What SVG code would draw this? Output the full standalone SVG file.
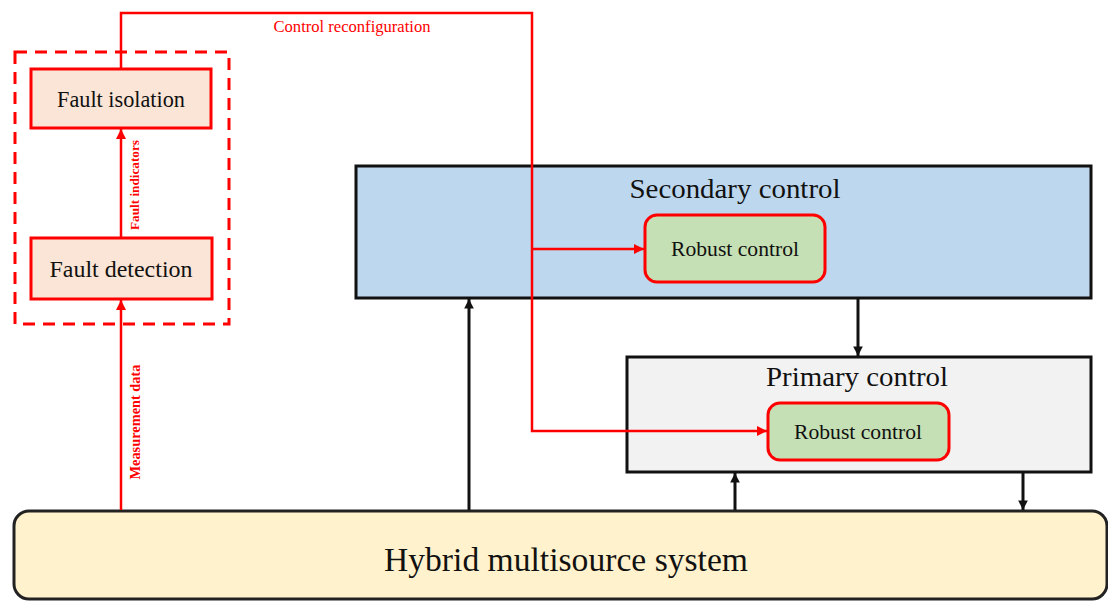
<svg xmlns="http://www.w3.org/2000/svg" width="1108" height="601" viewBox="0 0 1108 601">
<style>
.serif{font-family:"Liberation Serif","Times New Roman",Times,serif;}
.red{fill:#FF0000;}
.fault rect{fill:#FBE5D6;stroke:#FF0000;stroke-width:3;}
.robust rect{fill:#C5E0B4;stroke:#FF0000;stroke-width:3;}
.rl{fill:none;stroke:#FF0000;stroke-width:2.5;}
.bl{fill:none;stroke:#111;stroke-width:3;}
</style>
<defs>
<marker id="ar" viewBox="0 0 10 10" refX="10" refY="5" markerWidth="4" markerHeight="4" markerUnits="strokeWidth" orient="auto">
<path d="M0,0 L10,5 L0,10 z" fill="#FF0000"/>
</marker>
<marker id="ab" viewBox="0 0 10 10" refX="10" refY="5" markerWidth="3.2" markerHeight="3.2" markerUnits="strokeWidth" orient="auto">
<path d="M0,0 L10,5 L0,10 z" fill="#111"/>
</marker>
</defs>

<g id="fdi-group">
<rect x="15" y="52" width="214" height="272" fill="none" stroke="#FF0000" stroke-width="3" stroke-dasharray="12,8"/>
</g>

<g id="hybrid">
<rect x="14" y="511" width="1093" height="88" rx="15" fill="#FFF2CC" stroke="#222" stroke-width="3"/>
<text class="serif" x="566" y="571" font-size="34" text-anchor="middle" textLength="364" lengthAdjust="spacingAndGlyphs" fill="#111">Hybrid multisource system</text>
</g>

<g id="secondary">
<rect x="356" y="166" width="735" height="132" fill="#BDD7EE" stroke="#111" stroke-width="3"/>
<text class="serif" x="735" y="198" font-size="28" text-anchor="middle" textLength="211" lengthAdjust="spacingAndGlyphs" fill="#111">Secondary control</text>
</g>

<g id="primary">
<rect x="627" y="357" width="464" height="115" fill="#F2F2F2" stroke="#111" stroke-width="3"/>
<text class="serif" x="857" y="386" font-size="28" text-anchor="middle" textLength="182" lengthAdjust="spacingAndGlyphs" fill="#111">Primary control</text>
</g>

<g id="robust-secondary" class="robust">
<rect x="645" y="215" width="180" height="67" rx="12"/>
<text class="serif" x="735" y="256" font-size="21" text-anchor="middle" textLength="128" lengthAdjust="spacingAndGlyphs" fill="#111">Robust control</text>
</g>

<g id="robust-primary" class="robust">
<rect x="768" y="403" width="181" height="57" rx="12"/>
<text class="serif" x="858" y="439" font-size="21" text-anchor="middle" textLength="128" lengthAdjust="spacingAndGlyphs" fill="#111">Robust control</text>
</g>

<g id="fault-isolation" class="fault">
<rect x="31" y="69" width="180" height="59"/>
<text class="serif" x="121" y="107" font-size="23" text-anchor="middle" textLength="128" lengthAdjust="spacingAndGlyphs" fill="#111">Fault isolation</text>
</g>

<g id="fault-detection" class="fault">
<rect x="31" y="238" width="181" height="61"/>
<text class="serif" x="121" y="277" font-size="23" text-anchor="middle" textLength="143" lengthAdjust="spacingAndGlyphs" fill="#111">Fault detection</text>
</g>

<g id="connectors">
<line class="rl" x1="121" y1="510" x2="121" y2="300" marker-end="url(#ar)"/>
<line class="rl" x1="121" y1="237" x2="121" y2="129" marker-end="url(#ar)"/>
<polyline class="rl" points="121,68 121,13 532,13 532,431 767,431" marker-end="url(#ar)"/>
<line class="rl" x1="532" y1="249" x2="644" y2="249" marker-end="url(#ar)"/>
<line class="bl" x1="469" y1="510" x2="469" y2="299" marker-end="url(#ab)"/>
<line class="bl" x1="858" y1="299" x2="858" y2="356" marker-end="url(#ab)"/>
<line class="bl" x1="735" y1="510" x2="735" y2="473" marker-end="url(#ab)"/>
<line class="bl" x1="1023" y1="473" x2="1023" y2="510" marker-end="url(#ab)" stroke-width="2"/>
<text class="serif red" x="352" y="32" font-size="16" text-anchor="middle" textLength="157" lengthAdjust="spacingAndGlyphs">Control reconfiguration</text>
<text class="serif red" transform="translate(140,422) rotate(-90)" font-size="14" font-weight="bold" text-anchor="middle" textLength="115" lengthAdjust="spacingAndGlyphs">Measurement data</text>
<text class="serif red" transform="translate(139,185) rotate(-90)" font-size="12" font-weight="bold" text-anchor="middle" textLength="90" lengthAdjust="spacingAndGlyphs">Fault indicators</text>
</g>
</svg>
